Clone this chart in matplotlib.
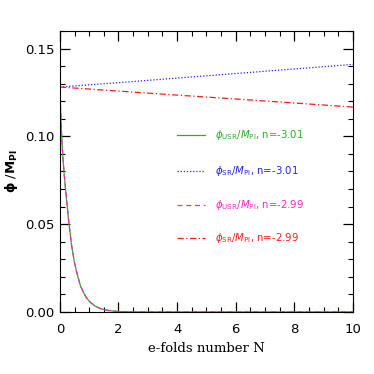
import numpy as np
import matplotlib.pyplot as plt
from matplotlib.ticker import MultipleLocator

# data
N_usr = [0, 0.02, 0.05, 0.1, 0.15, 0.2, 0.3, 0.4, 0.5, 0.6, 0.7, 0.8, 0.9, 1.0,
         1.2, 1.4, 1.6, 1.8, 2.0, 2.5, 3, 4, 5, 6, 7, 8, 9, 10]
phi_usr = [0.128, 0.118, 0.104, 0.089, 0.078, 0.069, 0.052, 0.038, 0.028, 0.021,
           0.015, 0.0113, 0.0083, 0.0061, 0.0033, 0.0018, 0.0010, 0.0005, 0.0002,
           0.00003, 0, 0, 0, 0, 0, 0, 0, 0]
N_sr = [0, 2, 4, 6, 8, 10]
phi_sr_a = [0.1281, 0.1306, 0.1332, 0.1358, 0.1384, 0.1410]  # n=-3.01
phi_sr_b = [0.1281, 0.1258, 0.1235, 0.1213, 0.1190, 0.1167]  # n=-2.99

labels = [r'$\phi_{\rm USR}/M_{\rm Pl}$, n=-3.01',
          r'$\phi_{\rm SR}/M_{\rm Pl}$, n=-3.01',
          r'$\phi_{\rm USR}/M_{\rm Pl}$, n=-2.99',
          r'$\phi_{\rm SR}/M_{\rm Pl}$, n=-2.99']
colors = ['#22b022', '#2222ee', '#ff22cc', '#ff1a1a']
styles = ['-', (0, (1, 1.5)), (0, (4, 3)), (0, (5, 2, 1, 2))]

fig = plt.figure(figsize=(3.74, 3.74), dpi=100)
ax = fig.add_axes([0.160, 0.166, 0.784, 0.751])

series = [(N_usr, phi_usr), (N_sr, phi_sr_a), (N_usr, phi_usr), (N_sr, phi_sr_b)]
for (xs, ys), c, ls in zip(series, colors, styles):
    ax.plot(xs, ys, color=c, linestyle=ls, linewidth=0.9)

# legend drawn as lines + coloured text inside the axes
leg_y = [0.101, 0.080, 0.061, 0.042]
for yv, lab, c, ls in zip(leg_y, labels, colors, styles):
    ax.plot([4.0, 4.95], [yv, yv], color=c, linestyle=ls, linewidth=0.9)
    ax.text(5.3, yv, lab, color=c, fontsize=7.3, va='center')

ax.set_xlim(0, 10)
ax.set_ylim(0, 0.16)
ax.set_xticks([0, 2, 4, 6, 8, 10])
ax.set_yticks([0.00, 0.05, 0.10, 0.15])
ax.set_yticklabels(['0.00', '0.05', '0.10', '0.15'])
ax.xaxis.set_minor_locator(MultipleLocator(0.5))
ax.yaxis.set_minor_locator(MultipleLocator(0.01))
ax.tick_params(which='both', direction='in', top=True, right=True, labelsize=9.5)
ax.tick_params(which='major', length=7, width=0.9)
ax.tick_params(which='minor', length=3.5, width=0.8)
ax.tick_params(axis='x', pad=8)
ax.tick_params(axis='y', pad=4)

ax.set_xlabel('e-folds number N', family='DejaVu Serif', fontsize=9.5)
ax.set_ylabel(r'$\mathbf{\phi}$ /$\mathbf{M_{Pl}}$', fontsize=9.5)
ax.yaxis.set_label_coords(-0.135, 0.5)

plt.savefig('out.png', dpi=100)
plt.close()
